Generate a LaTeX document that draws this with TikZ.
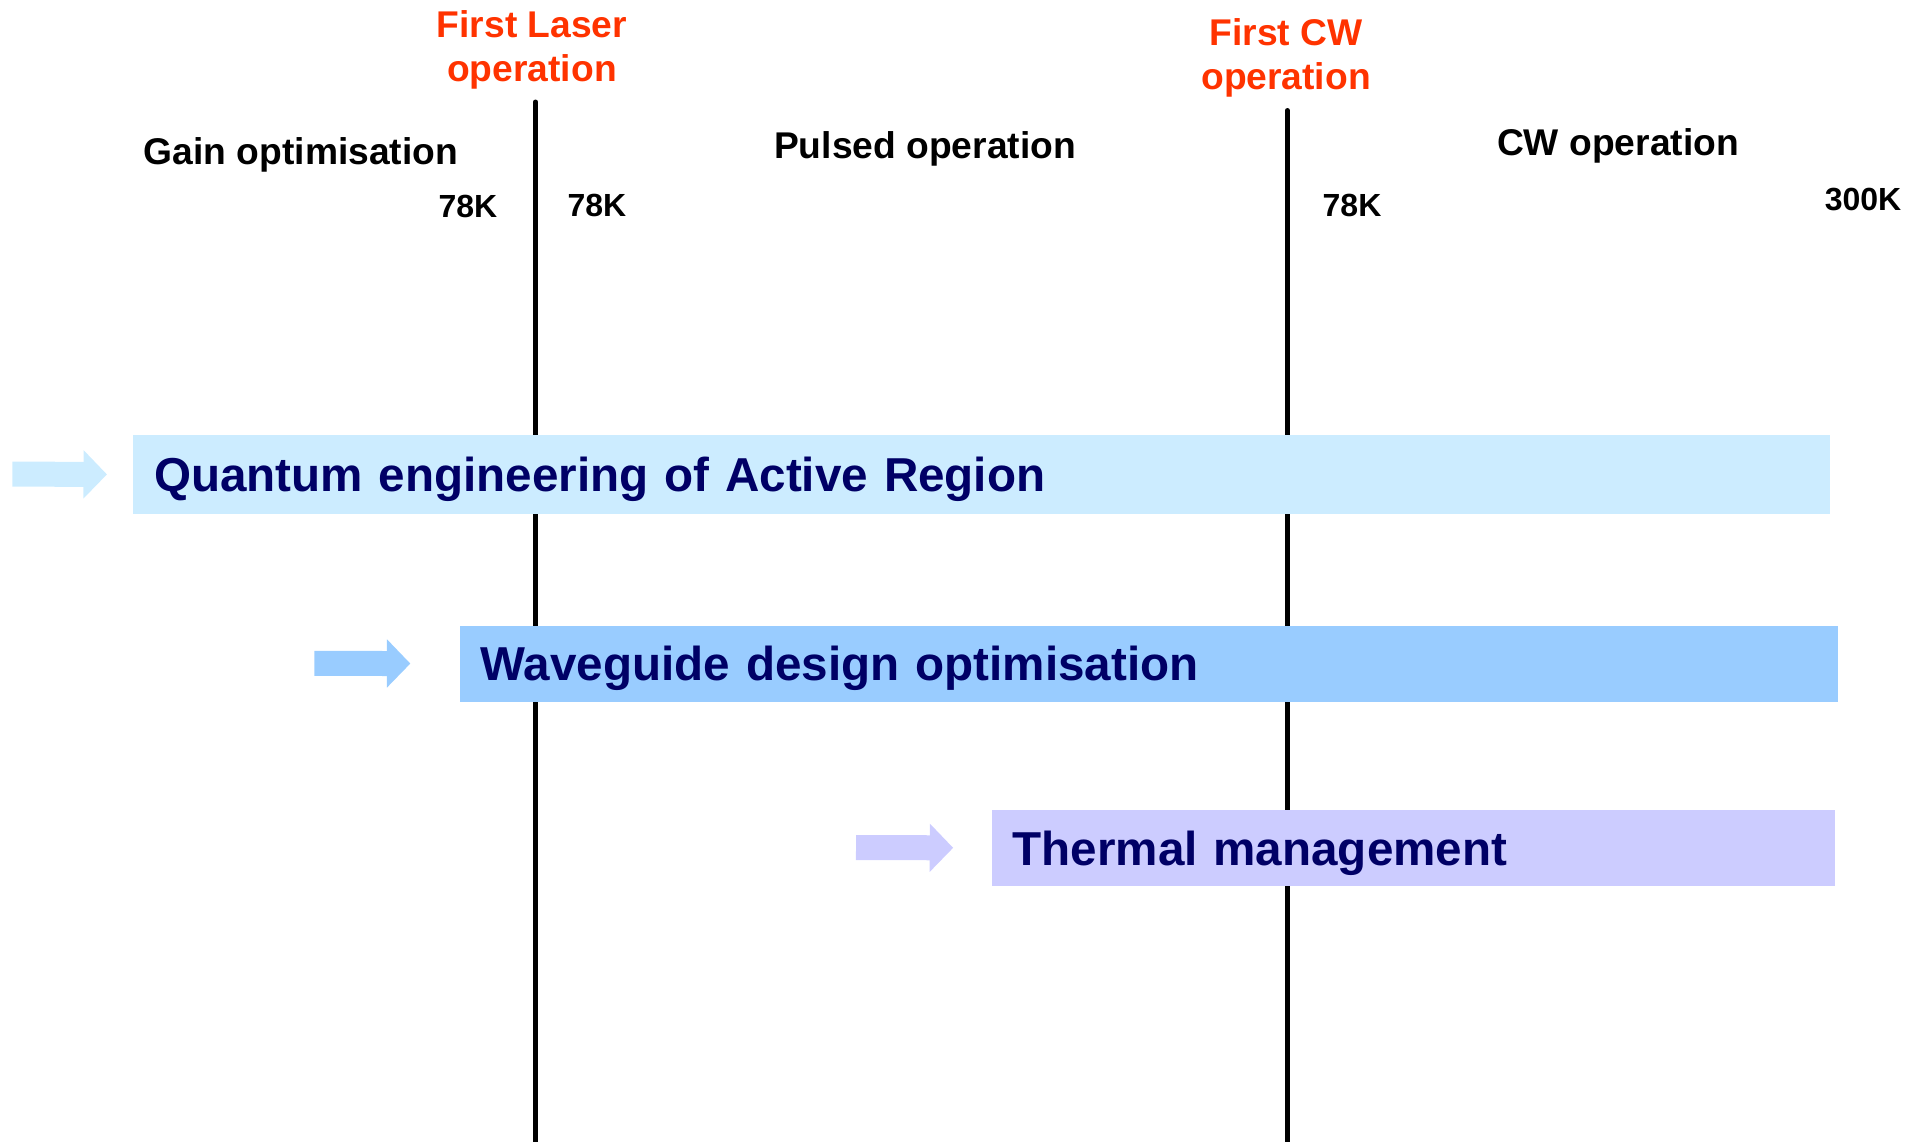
\documentclass[tikz,border=0pt]{standalone}
\usepackage{fontspec}
\setmainfont{Liberation Sans}
\usetikzlibrary{arrows.meta}
\definecolor{qcol}{HTML}{CCECFF}
\definecolor{wcol}{HTML}{99CCFF}
\definecolor{tcol}{HTML}{CCCCFF}
\definecolor{navy}{HTML}{000066}
\definecolor{redor}{HTML}{FF3300}
\begin{document}
\begin{tikzpicture}[x=0.5pt,y=-0.5pt,
  vline/.style={line width=2.5pt, line cap=round, black},
  head/.style={font=\fontsize{18.6}{22}\selectfont\bfseries, inner sep=0pt, align=center},
  event/.style={head, text=redor},
  temp/.style={font=\fontsize{16}{19}\selectfont\bfseries, inner sep=0pt},
  bar/.style={anchor=north west, inner xsep=10.5pt, inner ysep=0pt, text depth=0pt, font=\fontsize{23.8}{28}\selectfont\bfseries, text=navy, align=left},
  fatarrow/.style={line width=12.5pt, -{Triangle[length=11.75pt,width=23.5pt]}}
]
\useasboundingbox (0,0) rectangle (1926,1141);

% milestone lines
\coordinate (l1top) at (535.5,102);
\coordinate (l1bot) at (535.5,1145);
\coordinate (l2top) at (1287.3,110.5);
\coordinate (l2bot) at (1287.3,1145);
\draw[vline] (l1top) -- (l1bot);
\draw[vline] (l2top) -- (l2bot);

% milestone labels
\node[event] (ev1) at (532,49.5) {First Laser\\operation};
\node[event] (ev2) at (1286,57.5) {First CW\\operation};

% phase labels
\node[head] (ph1) at (301,154.7) {Gain optimisation};
\node[head] (ph2) at (925,148.5) {Pulsed operation};
\node[head] (ph3) at (1618,145.7) {CW operation};

% temperatures
\node[temp] (t1) at (468,206) {78K};
\node[temp] (t2) at (597,205) {78K};
\node[temp] (t3) at (1352,205) {78K};
\node[temp] (t4) at (1863,200) {300K};

% bars
\node[bar, fill=qcol, minimum width=848.65pt, minimum height=39.3pt, text width=827.65pt] (b1) at (132.7,434.8) {Quantum engineering of Active Region};
\node[bar, fill=wcol, minimum width=689.05pt, minimum height=38.1pt, text width=668.05pt] (b2) at (459.4,625.2) {Waveguide design optimisation};
\node[bar, fill=tcol, minimum width=421.9pt, minimum height=38.05pt, text width=400.9pt] (b3) at (991.2,809.5) {Thermal management};

% arrows
\coordinate (a1) at (12.3,474.1);
\coordinate (a2) at (314.4,663.3);
\coordinate (a3) at (856,847.5);
\draw[fatarrow, qcol, shorten >=12.85pt] (a1) -- (b1.west);
\draw[fatarrow, wcol, shorten >=24.5pt] (a2) -- (b2.west);
\draw[fatarrow, tcol, shorten >=19pt] (a3) -- (b3.west);
\end{tikzpicture}
\end{document}
